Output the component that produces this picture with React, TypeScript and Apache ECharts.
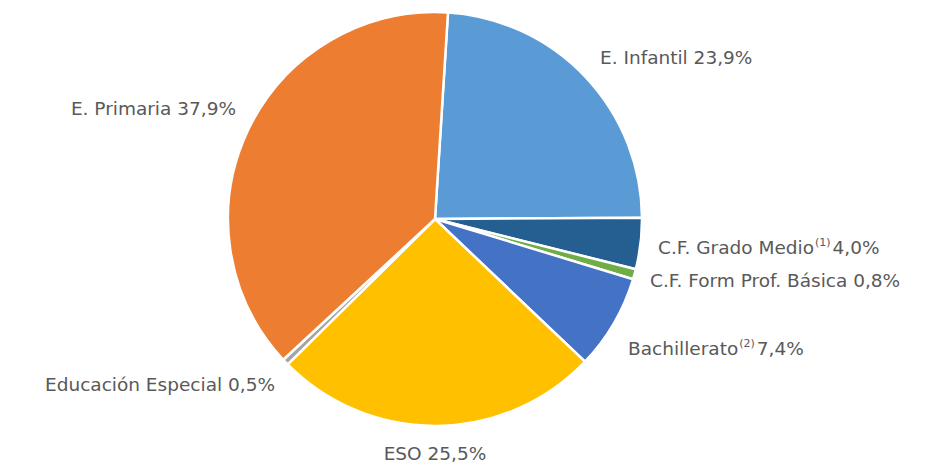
import React, { useEffect, useRef } from "react";
import * as echarts from "echarts";

const categories = [
  "E. Infantil",
  "C.F. Grado Medio",
  "C.F. Form Prof. Básica",
  "Bachillerato",
  "ESO",
  "Educación Especial",
  "E. Primaria",
];
const values = [23.9, 4.0, 0.8, 7.4, 25.5, 0.5, 37.9];
const footnotes = ["", "(1)", "", "(2)", "", "", ""];
const colors = ["#5B9BD5", "#255E91", "#70AD47", "#4472C4", "#FFC000", "#A5A5A5", "#ED7D31"];
const labelPos: [number, number, string][] = [
  [600, 57, "left"],
  [658, 247, "left"],
  [650, 280, "left"],
  [628, 348, "left"],
  [435, 453, "center"],
  [275, 384, "right"],
  [236, 108, "right"],
];

export default function App() {
  const ref = useRef<HTMLDivElement>(null);
  useEffect(() => {
    if (!ref.current) return;
    const chart = echarts.init(ref.current, null, { renderer: "svg" });
    const fmt = (v: number) => v.toFixed(1).replace(".", ",") + "%";
    chart.setOption({
      animation: false,
      backgroundColor: "#ffffff",
      series: [
        {
          type: "pie",
          center: [435, 219],
          radius: [0, 207],
          startAngle: 86.4,
          clockwise: true,
          avoidLabelOverlap: false,
          itemStyle: { borderColor: "#ffffff", borderWidth: 2.5 },
          labelLine: { show: false },
          label: {
            show: true,
            position: "outside",
            color: "#595959",
            fontFamily: "DejaVu Sans",
            fontSize: 18.5,
            formatter: (p: any) => {
              const fn = footnotes[p.dataIndex];
              return fn
                ? `${p.name}{sup|${fn}}${fmt(p.value)}`
                : `${p.name} ${fmt(p.value)}`;
            },
            rich: {
              sup: {
                fontSize: 11,
                fontFamily: "DejaVu Sans",
                color: "#595959",
                verticalAlign: "top",
                padding: [0, 2, 9, 1],
              },
            },
          },
          labelLayout: (params: any) => {
            const p = labelPos[params.dataIndex];
            return { x: p[0], y: p[1], align: p[2], verticalAlign: "middle" };
          },
          data: categories.map((name, i) => ({
            name,
            value: values[i],
            itemStyle: { color: colors[i] },
          })),
        },
      ],
    });
    return () => chart.dispose();
  }, []);
  return (
    <div
      ref={ref}
      style={{ position: "fixed", left: 0, top: 0, width: 933, height: 466 }}
    />
  );
}
